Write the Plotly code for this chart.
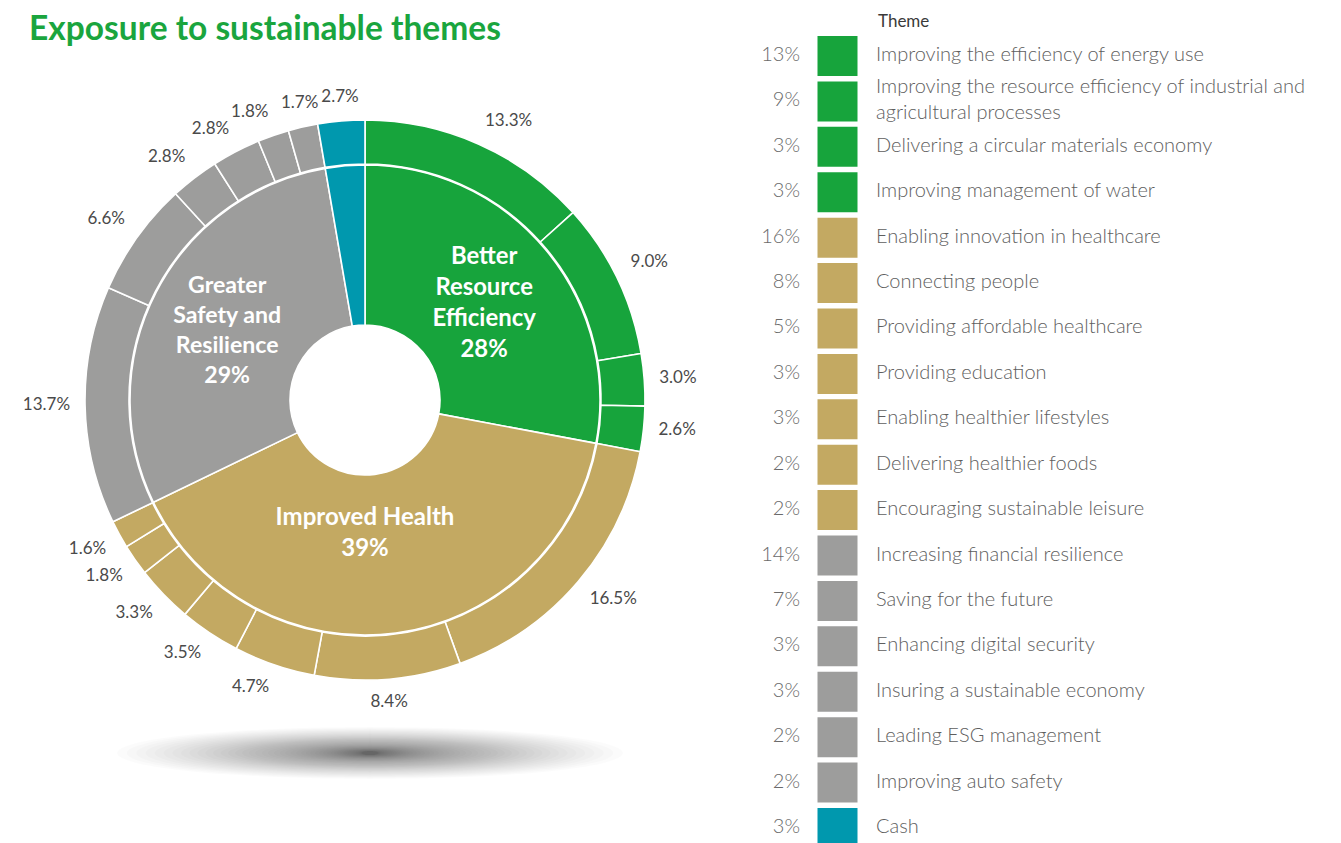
import math

import plotly.graph_objects as go

# ---- data ----
GROUPS = ["Better Resource Efficiency", "Improved Health",
          "Greater Safety and Resilience", "Cash"]
GROUP_TEXT = ["Better<br>Resource<br>Efficiency<br>28%",
              "Improved Health<br>39%",
              "Greater<br>Safety and<br>Resilience<br>29%",
              ""]
GROUP_COLORS = ["#17a43c", "#c3a962", "#9d9d9c", "#0098ae"]

themes = [
    "Improving the efficiency of energy use",
    "Improving the resource efficiency of industrial and<br>agricultural processes",
    "Delivering a circular materials economy",
    "Improving management of water",
    "Enabling innovation in healthcare",
    "Connecting people",
    "Providing affordable healthcare",
    "Providing education",
    "Enabling healthier lifestyles",
    "Delivering healthier foods",
    "Encouraging sustainable leisure",
    "Increasing financial resilience",
    "Saving for the future",
    "Enhancing digital security",
    "Insuring a sustainable economy",
    "Leading ESG management",
    "Improving auto safety",
    "Cash",
]
theme_group = [0, 0, 0, 0, 1, 1, 1, 1, 1, 1, 1, 2, 2, 2, 2, 2, 2, 3]
theme_values = [13.3, 9.0, 3.0, 2.6,
                16.5, 8.4, 4.7, 3.5, 3.3, 1.8, 1.6,
                13.7, 6.6, 2.8, 2.8, 1.8, 1.7,
                2.7]
legend_pct = ["13%", "9%", "3%", "3%", "16%", "8%", "5%", "3%", "3%", "2%",
              "2%", "14%", "7%", "3%", "3%", "2%", "2%", "3%"]

group_values = [sum(v for v, g in zip(theme_values, theme_group) if g == i)
                for i in range(len(GROUPS))]
theme_colors = [GROUP_COLORS[g] for g in theme_group]

# page has an 8px body margin, so the figure is a bit smaller than the window
PAD = 8
W, H = 1341 - PAD, 843 - PAD
CX, CY = 365, 400          # donut centre (screen px)
R_OUT, R_IN = 280, 235      # outer ring / inner ring radius (px)
R_LAB = 330                 # polar frame used for the outer labels


def px(x):
    return (x - PAD) / W


def py(y):
    return 1 - (y - PAD) / H


def dom(r):
    return dict(x=[px(CX - r), px(CX + r)], y=[py(CY + r), py(CY - r)])


FONT = "Lato"
fig = go.Figure()

# outer ring (themes)
fig.add_trace(go.Pie(
    labels=themes, values=theme_values, sort=False, direction="clockwise",
    rotation=0, hole=236 / R_OUT, domain=dom(R_OUT),
    marker=dict(colors=theme_colors, line=dict(color="white", width=1.6)),
    textinfo="none", hoverinfo="label+value", showlegend=False,
))

# inner ring (groups)
fig.add_trace(go.Pie(
    labels=GROUPS, values=group_values, sort=False, direction="clockwise",
    rotation=0, hole=75 / R_IN, domain=dom(R_IN),
    marker=dict(colors=GROUP_COLORS, line=dict(color="white", width=1.6)),
    text=GROUP_TEXT, texttemplate="<b>%{text}</b>", textposition="inside",
    insidetextorientation="horizontal",
    insidetextfont=dict(family=FONT, size=24, color="white"),
    hoverinfo="label+value", showlegend=False,
))

# outer value labels, placed on a polar frame sharing the donut centre
total = sum(theme_values)
theta, cum = [], 0.0
for v in theme_values:
    theta.append((cum + v / 2) / total * 360)
    cum += v


def text_pos(t):
    s, c = math.sin(math.radians(t)), math.cos(math.radians(t))
    vert = "top" if c > 0.38 else ("bottom" if c < -0.38 else "middle")
    horiz = "right" if s > 0.3 else ("left" if s < -0.3 else "center")
    return vert + " " + horiz


fig.add_trace(go.Scatterpolar(
    r=[R_OUT + 15] * len(theme_values), theta=theta, mode="text",
    text=[f"{v:.1f}%" for v in theme_values],
    textposition=[text_pos(t) for t in theta],
    textfont=dict(family=FONT, size=17, color="#4a4a4a"),
    cliponaxis=False, hoverinfo="skip", showlegend=False,
))

# legend table on the right
rows = list(range(len(themes)))
fig.add_trace(go.Scatter(
    x=[837.5] * len(rows), y=rows, mode="markers",
    marker=dict(symbol="square", size=40, color=theme_colors,
                line=dict(width=0)),
    hoverinfo="skip", showlegend=False,
))
fig.add_trace(go.Scatter(
    x=[800] * len(rows), y=rows, mode="text", text=legend_pct,
    textposition="middle left",
    textfont=dict(family=FONT, size=20, color="#6a6a6a", weight=300),
    hoverinfo="skip", showlegend=False,
))
fig.add_trace(go.Scatter(
    x=[876] * len(rows), y=rows, mode="text", text=themes,
    textposition="middle right",
    textfont=dict(family=FONT, size=20, color="#5e5e5e", weight=300),
    hoverinfo="skip", showlegend=False,
))

row_h = (828 - 56) / 17
fig.update_xaxes(range=[PAD, 1341], visible=False, fixedrange=True)
fig.update_yaxes(range=[(843 - 56) / row_h, (PAD - 56) / row_h],
                 visible=False, fixedrange=True)

fig.update_layout(polar=dict(
    domain=dom(R_LAB), bgcolor="rgba(0,0,0,0)",
    radialaxis=dict(range=[0, R_LAB], visible=False),
    angularaxis=dict(rotation=90, direction="clockwise", visible=False),
))

fig.add_annotation(x=876, y=(20 - 56) / row_h, xref="x", yref="y",
                   text="Theme", showarrow=False, xanchor="left",
                   yanchor="middle",
                   font=dict(family=FONT, size=17, color="#3a3a3a"))

# title
fig.add_annotation(x=px(27), y=py(27), xref="paper", yref="paper",
                   text="<b>Exposure to sustainable themes</b>",
                   showarrow=False, xanchor="left", yanchor="middle",
                   font=dict(family=FONT, size=33.5, color="#1aa53e"))

# soft shadow under the donut (stacked translucent ellipses)
shadow_cx, shadow_cy = 370, 753
n = 50
for i in range(n):
    f = (1 - i / n) ** 2
    hw, hh = 245 * f + 8, 24 * f + 2
    fig.add_shape(type="circle", xref="paper", yref="paper",
                  x0=px(shadow_cx - hw), x1=px(shadow_cx + hw),
                  y0=py(shadow_cy + hh), y1=py(shadow_cy - hh),
                  fillcolor="rgba(0,0,0,0.016)", line=dict(width=0),
                  layer="below")

fig.update_layout(
    width=W, height=H, margin=dict(l=0, r=0, t=0, b=0),
    paper_bgcolor="white", plot_bgcolor="rgba(0,0,0,0)",
    font=dict(family=FONT),
)

fig.write_html("out.html")
